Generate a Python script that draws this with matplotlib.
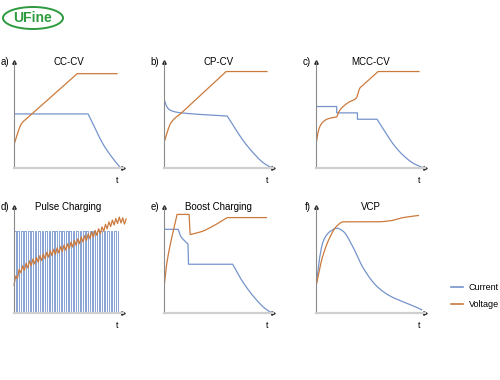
import numpy as np
import matplotlib.pyplot as plt
from matplotlib.lines import Line2D
from matplotlib.patches import Ellipse

plt.rcParams['font.family'] = ['Liberation Sans', 'DejaVu Sans']

BLUE = '#7594cc'
ORANGE = '#cc7a3c'

# a) CC-CV
a_cur_t = [0, 6.8, 7.5, 8.2, 9.0, 9.7]
a_cur_y = [5.1, 5.1, 3.6, 2.2, 1.0, 0.1]
a_vol_t = [0, 0.3, 0.7, 1.2, 5.8, 9.45]
a_vol_y = [2.2, 3.2, 4.2, 4.7, 8.9, 8.9]

# b) CP-CV
b_cur_t = [0, 0.2, 0.5, 1.0, 1.6, 5.8, 6.6, 7.4, 8.3, 9.1, 9.9]
b_cur_y = [6.5, 5.9, 5.5, 5.3, 5.2, 4.9, 3.6, 2.4, 1.3, 0.5, 0.0]
b_vol_t = [0, 0.3, 0.6, 1.0, 1.5, 5.7, 9.45]
b_vol_y = [2.4, 3.4, 4.2, 4.7, 5.1, 9.1, 9.1]

# c) MCC-CV
c_cur_t = [0, 1.9, 1.9, 3.8, 3.8, 5.6, 6.4, 7.2, 8.1, 9.0, 9.9]
c_cur_y = [5.8, 5.8, 5.2, 5.2, 4.6, 4.6, 3.3, 2.1, 1.1, 0.4, 0.0]
c_vol_t = [0, 0.15, 0.35, 0.6, 1.0, 1.5, 1.9, 2.05, 2.3, 3.0, 3.7, 3.85, 4.0, 4.3, 5.7, 9.45]
c_vol_y = [2.2, 3.2, 3.9, 4.3, 4.6, 4.75, 4.8, 5.2, 5.6, 6.2, 6.6, 7.0, 7.5, 7.8, 9.1, 9.1]

# d) Pulse charging
d_pulse_count = 30
d_pulse_end = 9.5
d_pulse_high = 7.7
d_env_t = [0, 0.55, 1.5, 3.3, 5.0, 6.4, 8.0, 8.8, 9.7, 10.3]
d_env_y = [2.9, 4.0, 4.7, 5.6, 6.3, 7.0, 7.8, 8.4, 8.8, 8.6]
d_ripple = 0.27

# e) Boost charging
e_cur_t = [0, 1.3, 1.5, 1.8, 2.2, 2.25, 6.3, 7.0, 7.8, 8.6, 9.3, 9.9]
e_cur_y = [7.9, 7.9, 7.3, 6.9, 6.5, 4.6, 4.6, 3.3, 2.1, 1.1, 0.4, 0.0]
e_vol_t = [0, 0.2, 1.2, 2.3, 2.4, 3.5, 4.5, 5.8, 9.4]
e_vol_y = [2.4, 4.3, 9.3, 9.3, 7.4, 7.7, 8.2, 9.0, 9.0]

# f) VCP
f_cur_t = [0, 0.3, 0.64, 1.0, 1.3, 1.9, 2.5, 3.4, 4.3, 5.6, 6.8, 8.0, 9.3, 9.7]
f_cur_y = [2.5, 5.0, 6.7, 7.4, 7.7, 8.0, 7.7, 6.2, 4.3, 2.5, 1.6, 1.05, 0.5, 0.3]
f_vol_t = [0, 0.6, 1.3, 1.9, 2.5, 3.4, 5.6, 6.8, 8.0, 9.4]
f_vol_y = [2.5, 5.3, 7.2, 8.2, 8.6, 8.6, 8.6, 8.7, 9.0, 9.2]

labels = ['a)', 'b)', 'c)', 'd)', 'e)', 'f)']
titles = ['CC-CV', 'CP-CV', 'MCC-CV', 'Pulse Charging', 'Boost Charging', 'VCP']


def pchip(x, y, n=60):
    x = np.asarray(x, float)
    y = np.asarray(y, float)
    if len(x) < 3 or x[0] == x[-1]:
        return x, y
    h = np.diff(x)
    d = np.diff(y) / h
    m = np.zeros(len(x))
    m[0], m[-1] = d[0], d[-1]
    for k in range(1, len(x) - 1):
        if d[k - 1] * d[k] > 0:
            w1 = 2 * h[k] + h[k - 1]
            w2 = h[k] + 2 * h[k - 1]
            m[k] = (w1 + w2) / (w1 / d[k - 1] + w2 / d[k])
    xs, ys = [], []
    for k in range(len(h)):
        s = np.linspace(0, 1, n)
        h00 = 2 * s**3 - 3 * s**2 + 1
        h10 = s**3 - 2 * s**2 + s
        h01 = -2 * s**3 + 3 * s**2
        h11 = s**3 - s**2
        xs.append(x[k] + s * h[k])
        ys.append(h00 * y[k] + h10 * h[k] * m[k] + h01 * y[k + 1] + h11 * h[k] * m[k + 1])
    return np.concatenate(xs), np.concatenate(ys)


def curve(ax, t, y, breaks=(), **kw):
    idx = [0] + list(breaks) + [len(t) - 1]
    xs, ys = [], []
    for i0, i1 in zip(idx[:-1], idx[1:]):
        px, py = pchip(t[i0:i1 + 1], y[i0:i1 + 1])
        xs.append(px)
        ys.append(py)
    ax.plot(np.concatenate(xs), np.concatenate(ys), **kw)


W, H = 500, 380
fig = plt.figure(figsize=(5, 3.8), dpi=100)

lefts = [14, 164, 316]
bottoms = [380 - 168, 380 - 313]
axes = []
for r in range(2):
    for c in range(3):
        ax = fig.add_axes([lefts[c] / W, bottoms[r] / H, 109 / W, 106 / H])
        ax.set_xlim(0, 10)
        ax.set_ylim(0, 10)
        ax.set_xticks([])
        ax.set_yticks([])
        for s in ['top', 'right']:
            ax.spines[s].set_visible(False)
        ax.spines['left'].set_color('#8a8a8a')
        ax.spines['left'].set_linewidth(0.8)
        ax.spines['bottom'].set_color('#cfcfcf')
        ax.spines['bottom'].set_linewidth(1.6)
        ax.plot(1, 0, '>', color='#222222', ms=2.5, transform=ax.transAxes, clip_on=False)
        ax.plot(0, 1, '^', color='#222222', ms=2.5, transform=ax.transAxes, clip_on=False)
        ax.text(0.95, -0.08, 't', transform=ax.transAxes, fontsize=6.5, ha='center', va='top')
        axes.append(ax)

for i, ax in enumerate(axes):
    ax.text(-0.045, 1.0, labels[i], transform=ax.transAxes, fontsize=7, ha='right', va='center')
    ax.text(0.5, 1.0, titles[i], transform=ax.transAxes, fontsize=7, ha='center', va='center')

lw = 0.9
cur = dict(color=BLUE, lw=lw)
vol = dict(color=ORANGE, lw=lw)
curve(axes[0], a_cur_t, a_cur_y, breaks=[1], **cur)
curve(axes[0], a_vol_t, a_vol_y, breaks=[3, 4], **vol)
curve(axes[1], b_cur_t, b_cur_y, breaks=[5], **cur)
curve(axes[1], b_vol_t, b_vol_y, breaks=[4, 5], **vol)
curve(axes[2], c_cur_t, c_cur_y, breaks=[1, 2, 3, 4, 5], **cur)
curve(axes[2], c_vol_t, c_vol_y, breaks=[6, 11, 14], **vol)

# pulse train
period = d_pulse_end / d_pulse_count
edges = np.arange(d_pulse_count + 1) * period
pt, py = [0], [d_pulse_high]
for k in range(d_pulse_count):
    tm = edges[k] + period / 2
    t1 = edges[k + 1]
    pt += [tm, tm, t1, t1]
    py += [d_pulse_high, 0, 0, d_pulse_high]
axes[3].plot(pt, py, color=BLUE, lw=0.6)
# voltage with ripple
half = period / 2
vt = np.arange(0, 10.3, half)
vy = np.interp(vt, d_env_t, d_env_y) + np.where(np.arange(len(vt)) % 2 == 0, -d_ripple, d_ripple)
axes[3].plot(vt, vy, color=ORANGE, lw=lw, clip_on=False)

curve(axes[4], e_cur_t, e_cur_y, breaks=[1, 4, 5, 6], **cur)
curve(axes[4], e_vol_t, e_vol_y, breaks=[2, 3, 4, 7], **vol)
curve(axes[5], f_cur_t, f_cur_y, **cur)
curve(axes[5], f_vol_t, f_vol_y, **vol)

handles = [Line2D([], [], color=BLUE, lw=1.2), Line2D([], [], color=ORANGE, lw=1.2)]
fig.legend(handles, ['Current', 'Voltage'], loc='center left',
           bbox_to_anchor=(446 / W, 1 - 296 / H), frameon=False, borderpad=0,
           fontsize=6.5, handlelength=1.4, handletextpad=0.6, labelspacing=0.9)

# logo
logo = fig.add_axes([0, 1 - 34 / H, 70 / W, 34 / H])
logo.set_xlim(0, 70)
logo.set_ylim(0, 34)
logo.axis('off')
logo.add_patch(Ellipse((33, 16), 60, 22, fill=False, edgecolor='#2e9a3e', lw=1.4))
logo.text(33, 16, 'UFine', color='#2e9a3e', fontsize=10, fontweight='bold', ha='center', va='center')

fig.savefig('out.png', dpi=100)
